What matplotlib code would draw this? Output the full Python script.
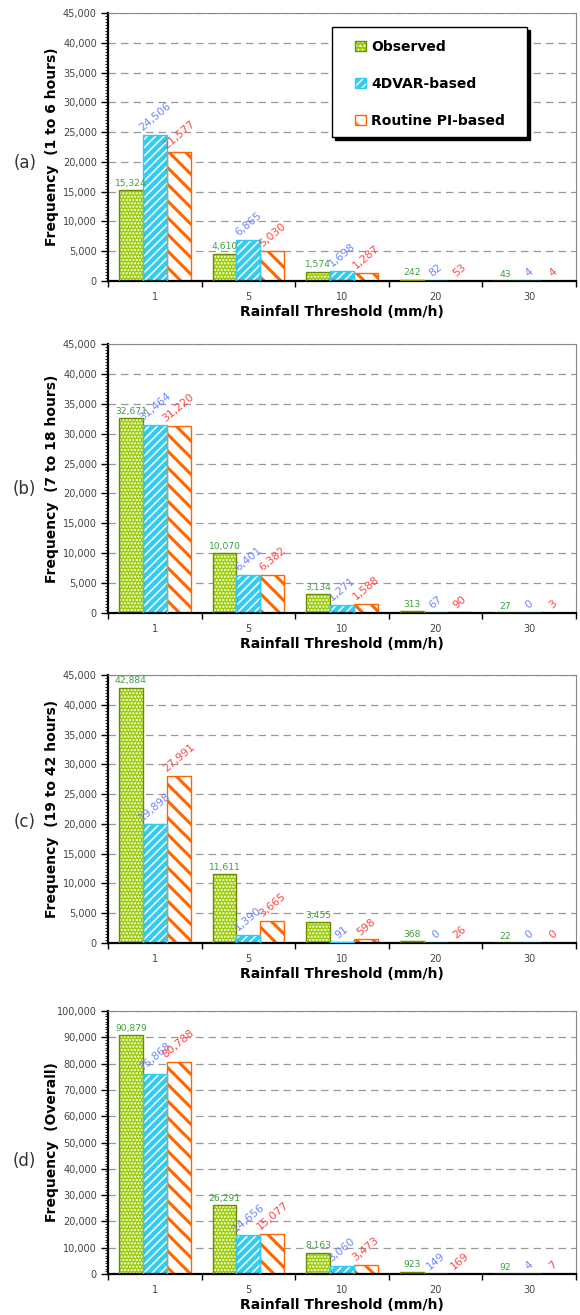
import matplotlib
matplotlib.use("Agg")
from matplotlib import pyplot as plt
from matplotlib.patches import Patch, Rectangle
from matplotlib.legend_handler import HandlerTuple
from matplotlib.ticker import MultipleLocator, FuncFormatter, FixedLocator
import numpy as np

thresholds = ["1", "5", "10", "20", "30"]
series_names = ["Observed", "4DVAR-based", "Routine PI-based"]

obs_a = [15324, 4610, 1574, 242, 43]
var_a = [24506, 6865, 1698, 82, 4]
pi_a = [21577, 5030, 1287, 53, 4]

obs_b = [32671, 10070, 3134, 313, 27]
var_b = [31464, 6401, 1271, 67, 0]
pi_b = [31220, 6382, 1588, 90, 3]

obs_c = [42884, 11611, 3455, 368, 22]
var_c = [19898, 1390, 91, 0, 0]
pi_c = [27991, 3665, 598, 26, 0]

obs_d = [90879, 26291, 8163, 923, 92]
var_d = [75868, 14656, 3060, 149, 4]
pi_d = [80788, 15077, 3473, 169, 7]

panel_tags = ["(a)", "(b)", "(c)", "(d)"]
ylabels = ["Frequency  (1 to 6 hours)", "Frequency  (7 to 18 hours)",
           "Frequency  (19 to 42 hours)", "Frequency  (Overall)"]
ymax = [45000, 45000, 45000, 100000]
ystep = [5000, 5000, 5000, 10000]

GREEN = "#99cc00"
GREEN_EDGE = "#6f8a00"
CYAN = "#33ccf0"
ORANGE = "#ff6600"

plt.rcParams["font.family"] = ["DejaVu Sans"]
plt.rcParams["hatch.linewidth"] = 1.1

fig = plt.figure(figsize=(5.8, 13.15), dpi=100)
W, H = 580, 1315
boxes = [(13, 281), (344, 613), (675, 943), (1011, 1274)]
data = [(obs_a, var_a, pi_a), (obs_b, var_b, pi_b), (obs_c, var_c, pi_c), (obs_d, var_d, pi_d)]
tag_y = [0.44, 0.46, 0.45, 0.43]

x = np.arange(len(thresholds))
bw = 0.255

for k in range(4):
    top, bot = boxes[k]
    ax = fig.add_axes([108 / W, 1 - bot / H, 468 / W, (bot - top) / H])
    obs, var, pi = data[k]

    # observed: green with white dots, olive outline
    ax.bar(x - bw, obs, bw, color=GREEN, edgecolor="white", hatch=".....", linewidth=0, zorder=2)
    ax.bar(x - bw, obs, bw, fill=False, edgecolor=GREEN_EDGE, linewidth=1, zorder=3)
    # 4DVAR: cyan with white stripes
    ax.bar(x, var, bw, color=CYAN, edgecolor="white", hatch="////", linewidth=0, zorder=2)
    ax.bar(x, var, bw, fill=False, edgecolor=CYAN, linewidth=1, zorder=3)
    # routine: white with thick orange stripes
    with plt.rc_context({"hatch.linewidth": 2.2}):
        bars = ax.bar(x + bw, pi, bw, color="white", edgecolor=ORANGE, hatch="\\\\",
                      linewidth=1, zorder=2)
    for b in bars:
        if hasattr(b, "set_hatch_linewidth"):
            b.set_hatch_linewidth(2.2)

    off = ymax[k] * 0.008
    for i in range(len(thresholds)):
        ax.text(x[i] - bw, obs[i] + off, f"{obs[i]:,}", ha="center", va="bottom",
                fontsize=6.6, color="#3f9e3f", zorder=5)
        ax.text(x[i], var[i] + off, f"{var[i]:,}", ha="center", va="bottom",
                fontsize=7.8, color="#6f85ff", rotation=40, zorder=5)
        ax.text(x[i] + bw, pi[i] + off, f"{pi[i]:,}", ha="center", va="bottom",
                fontsize=7.8, color="#ff4545", rotation=40, zorder=5)

    ax.set_xlim(-0.5, len(thresholds) - 0.5)
    ax.set_ylim(0, ymax[k])
    ax.yaxis.set_major_locator(MultipleLocator(ystep[k]))
    ax.yaxis.set_minor_locator(MultipleLocator(ystep[k] / 10))
    ax.yaxis.set_major_formatter(FuncFormatter(lambda v, p: f"{v:,.0f}"))
    ax.tick_params(axis="y", which="major", direction="out", length=5, width=1,
                   labelsize=7, labelcolor="#444444", pad=3)
    ax.tick_params(axis="y", which="minor", direction="out", length=2.5, width=0.6)

    ax.set_xticks(x)
    ax.set_xticklabels(thresholds)
    ax.xaxis.set_minor_locator(FixedLocator(np.arange(-0.5, len(thresholds), 1.0)))
    ax.tick_params(axis="x", which="major", length=0, labelsize=7, labelcolor="#444444", pad=8)
    ax.tick_params(axis="x", which="minor", direction="out", length=4, width=1)

    ax.yaxis.grid(True, which="major", color="#999999", linestyle=(0, (6, 4)), linewidth=0.9)
    ax.set_axisbelow(True)

    ax.spines["left"].set_linewidth(1.6)
    ax.spines["bottom"].set_linewidth(1.6)
    ax.spines["top"].set_color("#888888")
    ax.spines["right"].set_color("#888888")

    ax.set_ylabel(ylabels[k], fontsize=10, fontweight="bold")
    ax.yaxis.set_label_coords(-0.105, 0.5)
    ax.set_xlabel("Rainfall Threshold (mm/h)", fontsize=10, fontweight="bold", labelpad=2)
    ax.text(-0.178, tag_y[k], panel_tags[k], transform=ax.transAxes, fontsize=12,
            color="#333333", ha="center", va="center")

    if k == 0:
        # legend frame with a solid black drop shadow
        fx0, fx1 = (332 - 108) / 468, (527 - 108) / 468
        fy0, fy1 = (281 - 137) / 268, (281 - 27) / 268
        ax.add_patch(Rectangle((fx0 + 3 / 468, fy0 - 3 / 268), fx1 - fx0, fy1 - fy0,
                               transform=ax.transAxes, facecolor="black", edgecolor="black",
                               zorder=6))
        ax.add_patch(Rectangle((fx0, fy0), fx1 - fx0, fy1 - fy0, transform=ax.transAxes,
                               facecolor="white", edgecolor="black", linewidth=1, zorder=7))
        handles = [(Patch(facecolor=GREEN, edgecolor="white", hatch="....", linewidth=0),
                    Patch(fill=False, edgecolor=GREEN_EDGE, linewidth=1)),
                   (Patch(facecolor=CYAN, edgecolor="white", hatch="////", linewidth=0),
                    Patch(fill=False, edgecolor=CYAN, linewidth=1)),
                   Patch(facecolor="white", edgecolor=ORANGE, hatch="\\\\")]
        leg = ax.legend(handles, series_names, loc="upper left",
                        handler_map={tuple: HandlerTuple(ndivide=1, pad=0)},
                        bbox_to_anchor=((355 - 108) / 468, (281 - 40) / 268),
                        borderaxespad=0, borderpad=0, frameon=False,
                        prop={"weight": "bold", "size": 10}, labelspacing=1.65,
                        handlelength=0.8, handleheight=0.8, handletextpad=0.35)
        leg.set_zorder(8)

fig.savefig("out.png", dpi=100)
